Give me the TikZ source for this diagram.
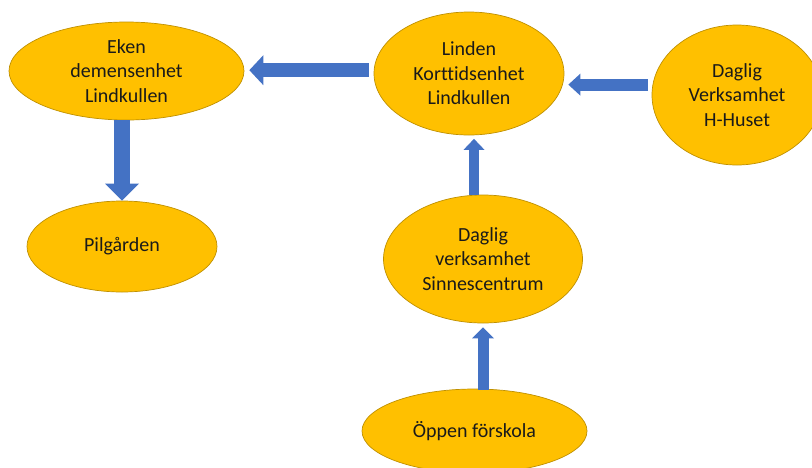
\documentclass[tikz,border=0pt]{standalone}
\usepackage{fontspec}
\setmainfont{Carlito}[Ligatures=CommonOff]
\usetikzlibrary{shapes.geometric}
\usetikzlibrary{arrows.meta}
\definecolor{unitfillc}{HTML}{FFC000}
\definecolor{unitlinec}{HTML}{BF9000}
\definecolor{flowc}{HTML}{4472C4}
\definecolor{textc}{HTML}{1A1A1A}

\begin{document}
\begin{tikzpicture}[x=1pt,y=-1pt,
  unit/.style={draw=unitlinec,fill=unitfillc,shape=ellipse,line width=0.7pt,inner sep=0pt,
    align=center,text=textc,font=\fontsize{20}{24.5}\selectfont},
  flow/.style={draw=flowc,line width=#1}]
\useasboundingbox (0,0) rectangle (812,467);
\clip (0,0) rectangle (812,467);

\node[unit,minimum width=235pt,minimum height=98pt]
(eken) at (126.5,71) {Eken\\demensenhet\\Lindkullen};
\node[unit,minimum width=190pt,minimum height=123pt]
(linden) at (469,73.5) {Linden\\Korttidsenhet\\Lindkullen};
\node[unit,minimum width=170pt,minimum height=140pt]
(hhuset) at (737,95) {Daglig\\Verksamhet\\H-Huset};
\node[unit,minimum width=190pt,minimum height=91pt]
(pilgarden) at (122,246.5) {Pilgården};
\node[unit,minimum width=199pt,minimum height=128pt]
(sinnes) at (483,259) {Daglig\\verksamhet\\Sinnescentrum};
\node[unit,minimum width=225pt,minimum height=84pt]
(oppen) at (474.5,431) {Öppen förskola};

% flows between the units
\draw[flow=14pt,-{Triangle[length=14pt,width=30pt,line width=0pt]},shorten <=5pt,shorten >=5pt]
(linden.178) -- (linden.178 -| eken.east);
\draw[flow=16pt,-{Triangle[length=17pt,width=34pt,line width=0pt]}]
(eken.south -| pilgarden.north) -- (pilgarden.north);
\draw[flow=12pt,-{Triangle[length=12pt,width=22pt,line width=0pt]},shorten <=5pt,shorten >=4pt]
(hhuset.173) -- (hhuset.173 -| linden.east);
\draw[flow=10pt,-{Triangle[length=11pt,width=21pt,line width=0pt]},shorten >=3.5pt]
(sinnes.98) -- (sinnes.98 |- linden.south);
\draw[flow=11pt,-{Triangle[length=11pt,width=22pt,line width=0pt]},shorten <=-1pt,shorten >=4pt]
(oppen.north -| sinnes.south) -- (sinnes.south);

\end{tikzpicture}
\end{document}
